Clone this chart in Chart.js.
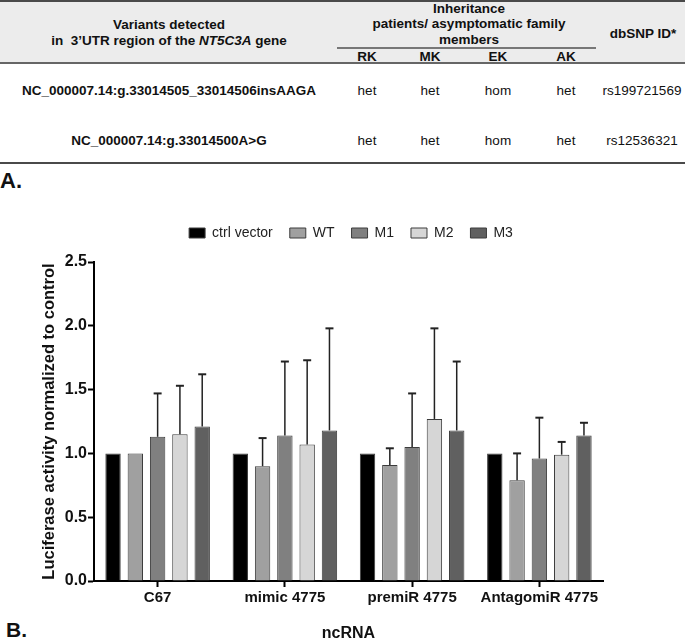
<!DOCTYPE html>
<html>
<head>
<meta charset="utf-8">
<script src="https://cdn.jsdelivr.net/npm/chart.js@4.4.1/dist/chart.umd.min.js"></script>
<style>
  body { margin: 0; width: 685px; height: 639px; overflow: hidden; background: #fff; position: relative;
         font-family: "Liberation Sans", Arial, sans-serif; color: #111; }
  .rule { position: absolute; left: 0; width: 685px; }
  .c { position: absolute; width: 340px; text-align: center; white-space: nowrap; font-size: 13.5px; line-height: 15px; }
  .b { font-weight: bold; }
  .lab { position: absolute; font-weight: bold; line-height: 1; }
  #chart { position: absolute; left: 0; top: 200px; }
</style>
</head>
<body>

<div class="rule" style="top:0;height:2px;background:#4a4a4a"></div>
<div class="rule" style="top:2px;height:60px;background:#ececec"></div>
<div class="rule" style="top:62px;height:2px;background:#666"></div>
<div style="position:absolute;left:337px;top:47px;width:259px;height:1.5px;background:#777"></div>
<div class="rule" style="top:162px;height:2px;background:#4a4a4a"></div>
<div id="table"></div>

<div class="lab" style="left:0;top:170px;font-size:22px">A.</div>
<div class="lab" style="left:6px;top:619px;font-size:21px">B.</div>

<canvas id="chart" width="685" height="450"></canvas>

<script>
// table text
const headCells = [
	["Variants detected", 169, 24],
	["in&nbsp; 3’UTR region of the <i>NT5C3A</i> gene", 169, 40],
	["Inheritance", 469, 8],
	["patients/ asymptomatic family", 469, 23],
	["members", 469, 39],
	["RK", 367, 56], ["MK", 430, 56], ["EK", 498, 56], ["AK", 566, 56],
	["dbSNP ID*", 643, 33]
];
const variants = ["NC_000007.14:g.33014505_33014506insAAGA", "NC_000007.14:g.33014500A>G"];
const genotypes = [["het", "het", "hom", "het"], ["het", "het", "hom", "het"]];
const snpIds = ["rs199721569", "rs12536321"];
const rowY = [90, 140];
const colX = [367, 430, 498, 566];

function cell(html, cx, cy, bold){
	let d = document.createElement("div");
	d.className = "c" + (bold ? " b" : "");
	d.style.left = (cx - 170) + "px";
	d.style.top = (cy - 7.5) + "px";
	d.innerHTML = html;
	document.getElementById("table").appendChild(d);
}
headCells.forEach(h => cell(h[0], h[1], h[2], true));
for(let i=0; i<variants.length; i++){
	cell(variants[i].replace(">", "&gt;"), 169, rowY[i], true);
	genotypes[i].forEach((g, k) => cell(g, colX[k], rowY[i], false));
	cell(snpIds[i], 642, rowY[i], false);
}

// chart data
const categories = ["C67", "mimic 4775", "premiR 4775", "AntagomiR 4775"];
const seriesNames = ["ctrl vector", "WT", "M1", "M2", "M3"];
const ctrlVector = [1.00, 1.00, 1.00, 1.00];
const wt = [1.00, 0.90, 0.91, 0.79];
const m1 = [1.13, 1.14, 1.05, 0.96];
const m2 = [1.15, 1.07, 1.27, 0.99];
const m3 = [1.21, 1.18, 1.18, 1.14];
const ctrlErr = [0, 0, 0, 0];
const wtErr = [0, 0.22, 0.13, 0.21];
const m1Err = [0.34, 0.58, 0.42, 0.32];
const m2Err = [0.38, 0.66, 0.71, 0.10];
const m3Err = [0.41, 0.80, 0.54, 0.10];
const yTicks = [0, 0.5, 1.0, 1.5, 2.0, 2.5];

const values = [ctrlVector, wt, m1, m2, m3];
const errors = [ctrlErr, wtErr, m1Err, m2Err, m3Err];
const fills = ["#000000", "#a0a0a0", "#808080", "#d6d6d6", "#606060"];

const errorBars = {
	id: "errorBars",
	afterDatasetsDraw(chart){
		const ctx = chart.ctx, y = chart.scales.y;
		chart.data.datasets.forEach((ds, i) => {
			chart.getDatasetMeta(i).data.forEach((bar, j) => {
				const e = ds.errors[j];
				if(!e) return;
				const top = y.getPixelForValue(ds.data[j] + e);
				ctx.save();
				ctx.strokeStyle = "#222";
				ctx.lineWidth = 1.5;
				ctx.beginPath();
				ctx.moveTo(bar.x, bar.y);
				ctx.lineTo(bar.x, top);
				ctx.stroke();
				ctx.lineWidth = 2;
				ctx.beginPath();
				ctx.moveTo(bar.x - 4, top);
				ctx.lineTo(bar.x + 4, top);
				ctx.stroke();
				ctx.restore();
			});
		});
	}
};

// keep a fixed gap between legend and plot
const legendGap = {
	id: "legendGap",
	beforeInit(chart){
		const fit = chart.legend.fit;
		chart.legend.fit = function(){
			fit.call(this);
			this.height = 53;
		};
	}
};

const font = "'Liberation Sans', Arial, sans-serif";

new Chart(document.getElementById("chart"), {
	type: "bar",
	data: {
		labels: categories,
		datasets: seriesNames.map((name, i) => ({
			label: name,
			data: values[i],
			errors: errors[i],
			backgroundColor: fills[i],
			borderColor: "#3c3c3c",
			borderWidth: 1,
			categoryPercentage: 0.876,
			barPercentage: 0.69
		}))
	},
	options: {
		responsive: false,
		animation: false,
		layout: { padding: { top: 9, left: 17, right: 0, bottom: 0 } },
		plugins: {
			tooltip: { enabled: false },
			legend: {
				position: "top",
				labels: {
					boxWidth: 16, boxHeight: 10, padding: 17, color: "#222",
					font: { family: font, size: 14 }
				}
			}
		},
		scales: {
			x: {
				z: 1,
				grid: { offset: false, drawOnChartArea: false, tickLength: 6, tickWidth: 2, tickColor: "#000" },
				border: { color: "#000", width: 2 },
				ticks: { color: "#111", padding: 2, maxRotation: 0, font: { family: font, size: 15, weight: "bold" } },
				title: { display: true, text: "ncRNA", color: "#111", padding: { top: 0, bottom: 7 },
					font: { family: font, size: 16, weight: "bold" } },
				afterFit(s){ s.height = 69; }
			},
			y: {
				z: 1,
				min: 0, max: 2.5,
				afterBuildTicks(s){ s.ticks = yTicks.map(v => ({ value: v })); },
				grid: { drawOnChartArea: false, tickLength: 6, tickWidth: 2, tickColor: "#000" },
				border: { color: "#000", width: 2 },
				ticks: { color: "#111", padding: 1, callback: v => v.toFixed(1),
					font: { family: font, size: 16, weight: "bold" } },
				title: { display: true, text: "Luciferase activity normalized to control", color: "#111",
					padding: { top: 23, bottom: 0 }, font: { family: font, size: 16.5, weight: "bold" } },
				afterFit(s){ s.width = 77; }
			},
			yRight: {
				position: "right",
				grid: { display: false },
				border: { display: false },
				ticks: { display: false },
				afterFit(s){ s.width = 82; }
			}
		}
	},
	plugins: [errorBars, legendGap]
});
</script>
</body>
</html>
